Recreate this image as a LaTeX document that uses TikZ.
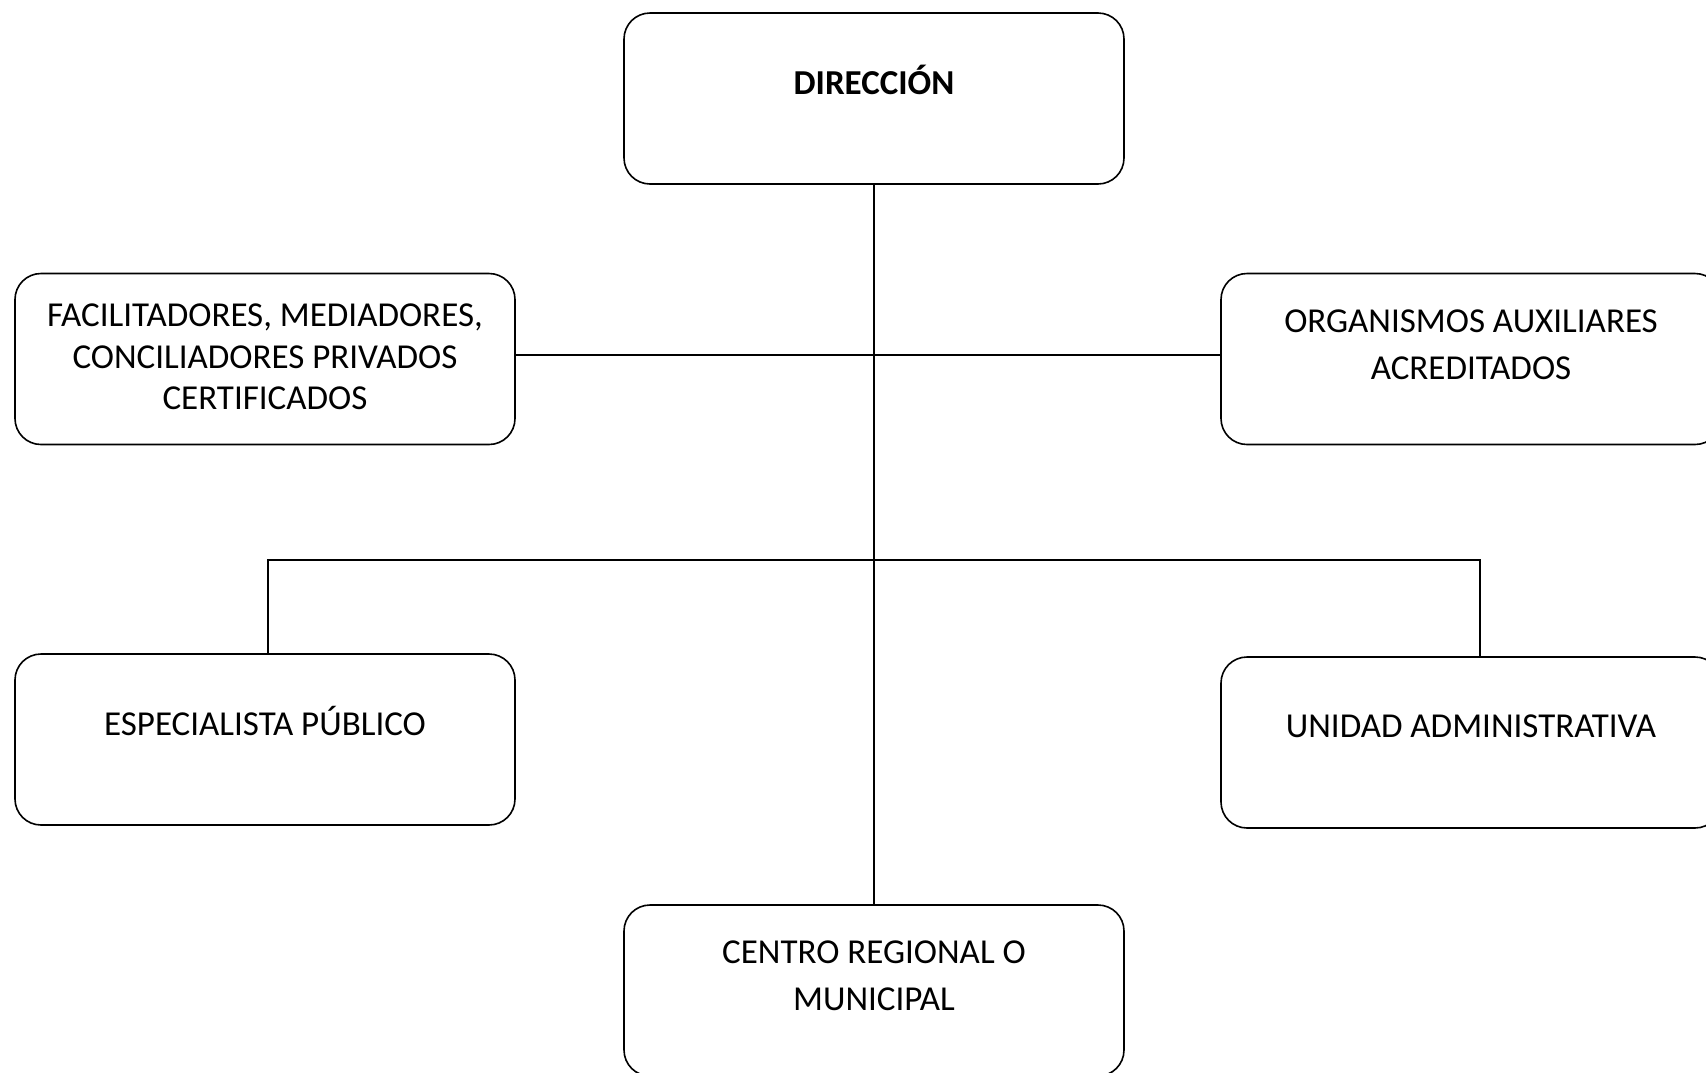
\documentclass[tikz,border=0pt]{standalone}
\usepackage{fontspec}
\setmainfont{Carlito}
\usetikzlibrary{positioning}
\tikzset {
    x=0.5pt, y=-0.5pt,
    box/.style={draw, rounded corners=13pt, minimum width=250pt, minimum height=85.5pt, line width=0.8pt},
    lbl/.style={align=center, font=\fontsize{17.5}{23.5}\selectfont},
    link/.style={line width=0.8pt}
}

\begin{document}
\begin{tikzpicture}
    \useasboundingbox (0,0) rectangle (1706,1072);

    % boxes
    \node[box] (dir) at (874,98.5) {};
    \node[box] (fac) at (265,359) {};
    \node[box] (org) at (1471,359) {};
    \node[box] (esp) at (265,739.5) {};
    \node[box] (uni) at (1471,742.5) {};
    \node[box] (cen) at (874,990.5) {};

    % texts
    \node[lbl, font=\fontsize{17.5}{23.5}\selectfont\bfseries] (dirt) at (874,80) {DIRECCIÓN};
    \node[lbl, font=\fontsize{17.5}{20.75}\selectfont] (fact) at (265,357) {FACILITADORES, MEDIADORES,\\CONCILIADORES PRIVADOS\\CERTIFICADOS};
    \node[lbl] (orgt) at (1471,344.5) {ORGANISMOS AUXILIARES\\ACREDITADOS};
    \node[lbl] (espt) at (265,721) {ESPECIALISTA PÚBLICO};
    \node[lbl] (unit) at (1471,726) {UNIDAD ADMINISTRATIVA};
    \node[lbl] (cent) at (874,976) {CENTRO REGIONAL O\\MUNICIPAL};

    % connectors
    \coordinate (bus) at (874,560);
    \draw[link] (dir.south) -- (cen.north);
    \draw[link] ([yshift=2pt]fac.east) -- ([yshift=2pt]org.west);
    \draw[link] ([xshift=1.5pt]esp.north) |- (bus) -| ([xshift=4.5pt]uni.north);
\end{tikzpicture}
\end{document}
